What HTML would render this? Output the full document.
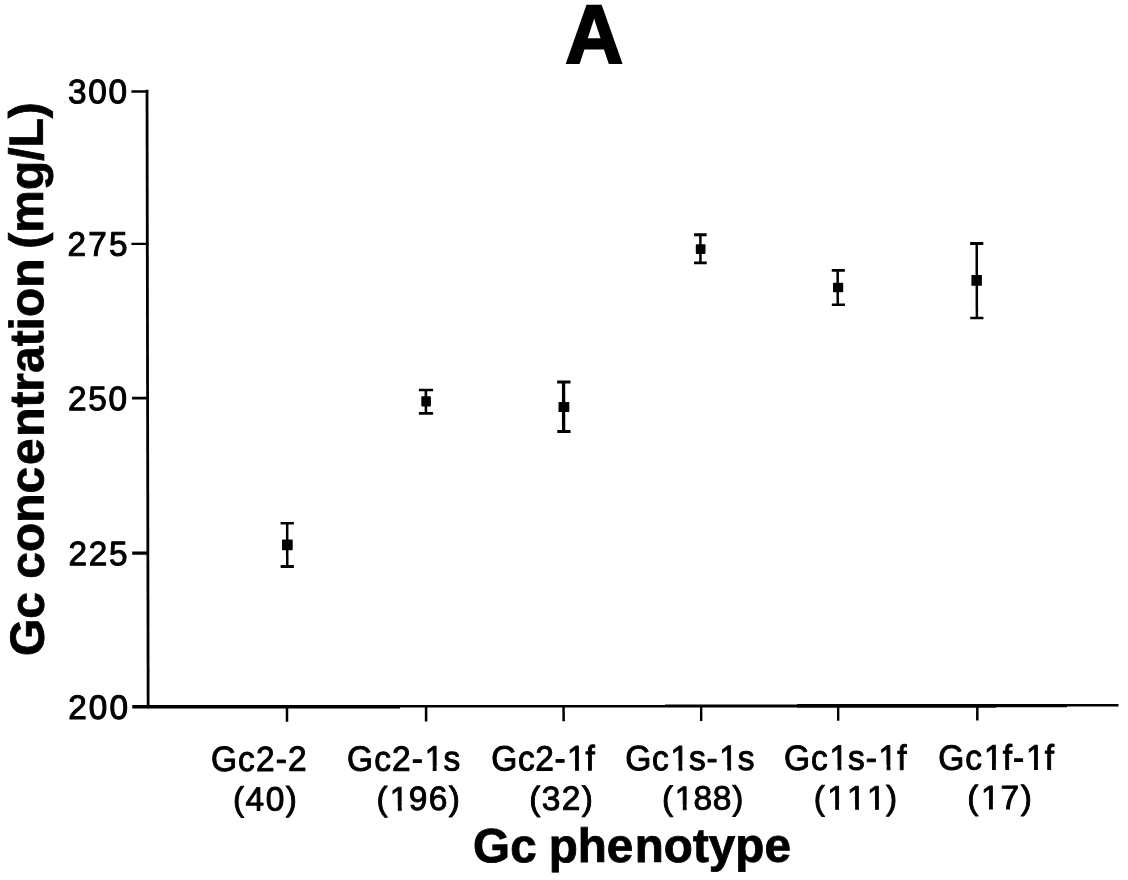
<!DOCTYPE html>
<html lang="en">
<head>
<meta charset="utf-8">
<title>Gc concentration by Gc phenotype</title>
<style>
  html, body { margin: 0; padding: 0; background: #ffffff; }
  body { width: 1128px; height: 880px; overflow: hidden; }
  svg { display: block; }
  text { font-family: "Liberation Sans", sans-serif; font-kerning: none; fill: #000; white-space: pre; }
  .b { font-weight: bold; }
  .r { font-weight: normal; }
</style>
</head>
<body>
<svg width="1128" height="880" viewBox="0 0 1128 880">
  <rect x="0" y="0" width="1128" height="880" fill="#ffffff"/>
  <g transform="rotate(-0.105 148 707)">
  <!-- panel title -->
    <text id="ttl" class="b" transform="translate(566.357 63.776) scale(0.99 1.023)" font-size="81" stroke="#000" stroke-width="2.2" stroke-linejoin="miter">A</text>
  <!-- axes and ticks -->
  <g stroke="#000" fill="none">
    <line x1="148.15" y1="89.8" x2="148.15" y2="708.2" stroke-width="2.8"/>
    <line x1="132.53" y1="91.39" x2="149.33" y2="91.39" stroke-width="2.5"/>
    <line x1="132.25" y1="243.79" x2="149.25" y2="243.79" stroke-width="2.2"/>
    <line x1="132.57" y1="398.19" x2="149.17" y2="398.19" stroke-width="2.8"/>
    <line x1="132.48" y1="553.19" x2="149.08" y2="553.19" stroke-width="3.3"/>
    <line x1="286.99" y1="706.25" x2="286.99" y2="722.05" stroke-width="2.5"/>
    <line x1="426.09" y1="706.51" x2="426.09" y2="722.01" stroke-width="2.6"/>
    <line x1="563.59" y1="706.56" x2="563.59" y2="721.96" stroke-width="2.5"/>
    <line x1="701.19" y1="706.61" x2="701.19" y2="722.01" stroke-width="2.4"/>
    <line x1="838.19" y1="706.56" x2="838.19" y2="722.06" stroke-width="2.4"/>
    <line x1="977.29" y1="706.52" x2="977.29" y2="721.92" stroke-width="2.5"/>
  </g>
  <!-- y tick labels -->
    <text id="y300" class="r" transform="translate(68.996 103.1) scale(1 1.02)" font-size="33.4" x="0 20.25 40.5" stroke="#000" stroke-width="1" stroke-linejoin="round">300</text>
    <text id="y275" class="r" transform="translate(68.298 255.6) scale(1 1.02)" font-size="33.4" x="0 20.76 41.52" stroke="#000" stroke-width="1" stroke-linejoin="round">275</text>
    <text id="y250" class="r" transform="translate(68.522 410.1) scale(1 1.02)" font-size="33.4" x="0 20.27 40.55" stroke="#000" stroke-width="1" stroke-linejoin="round">250</text>
    <text id="y225" class="r" transform="translate(68.71 565.1) scale(1 1.02)" font-size="33.4" x="0 20.22 40.44" stroke="#000" stroke-width="1" stroke-linejoin="round">225</text>
    <text id="y200" class="r" transform="translate(68.275 718.9) scale(1 1.02)" font-size="33.4" x="0 20.54 41.09" stroke="#000" stroke-width="1" stroke-linejoin="round">200</text>
  <!-- data points: mean (square) with error bars -->
  <g stroke="#000" fill="#000">
    <line x1="287.5" y1="523.46" x2="287.5" y2="566.66" stroke-width="2.5"/>
    <line x1="280.9" y1="523.46" x2="294.2" y2="523.46" stroke-width="2.6"/>
    <line x1="280.9" y1="566.66" x2="294.2" y2="566.66" stroke-width="3"/>
    <rect x="282.3" y="539.66" width="10.7" height="10.9" rx="0.8" stroke="none"/>
    <line x1="426.46" y1="390.51" x2="426.46" y2="413.81" stroke-width="2.6"/>
    <line x1="419.46" y1="390.51" x2="433.66" y2="390.51" stroke-width="2.6"/>
    <line x1="419.46" y1="413.81" x2="433.66" y2="413.81" stroke-width="2.7"/>
    <rect x="421.86" y="396.81" width="9.6" height="10.2" rx="0.8" stroke="none"/>
    <line x1="564.15" y1="382.76" x2="564.15" y2="432.26" stroke-width="3.3"/>
    <line x1="557.75" y1="382.76" x2="571.05" y2="382.76" stroke-width="3"/>
    <line x1="557.75" y1="432.26" x2="571.05" y2="432.26" stroke-width="2.8"/>
    <rect x="559.05" y="402.86" width="10.8" height="9.9" rx="0.5" stroke="none"/>
    <line x1="701.24" y1="235.81" x2="701.24" y2="263.91" stroke-width="2.5"/>
    <line x1="694.84" y1="235.81" x2="707.54" y2="235.81" stroke-width="2.9"/>
    <line x1="694.84" y1="263.91" x2="707.54" y2="263.91" stroke-width="2.6"/>
    <rect x="696.64" y="245.21" width="9.7" height="9.7" rx="0.8" stroke="none"/>
    <line x1="838.47" y1="271.56" x2="838.47" y2="305.96" stroke-width="2.5"/>
    <line x1="832.57" y1="271.56" x2="845.67" y2="271.56" stroke-width="2.7"/>
    <line x1="832.57" y1="305.96" x2="845.67" y2="305.96" stroke-width="2.6"/>
    <rect x="833.77" y="284.07" width="10.2" height="9.4" rx="0.8" stroke="none"/>
    <line x1="977.58" y1="245.02" x2="977.58" y2="319.52" stroke-width="2.5"/>
    <line x1="970.98" y1="245.02" x2="984.18" y2="245.02" stroke-width="3.2"/>
    <line x1="970.98" y1="319.52" x2="984.18" y2="319.52" stroke-width="2.6"/>
    <rect x="972.18" y="276.62" width="10.5" height="10.6" rx="0.5" stroke="none"/>
  </g>
  <!-- x tick labels -->
    <text id="l1a" class="r" transform="translate(210.761 771.1) scale(1 1.045)" font-size="33.6" x="0 27.24 45.14 64.93 77.22" stroke="#000" stroke-width="0.9" stroke-linejoin="round">Gc2-2</text>
    <text id="l1b" class="r" transform="translate(232.825 810.6)" font-size="33.6" x="0 12.59 32.67 52.76" stroke="#000" stroke-width="0.9" stroke-linejoin="round">(40)</text>
    <text id="l2a" class="r" transform="translate(346.945 771.1) scale(1 1.045)" font-size="33.6" x="0 27.12 44.91 64.58 77.66 96.43" stroke="#000" stroke-width="0.9" stroke-linejoin="round">Gc2-1s</text>
    <rect x="425.213" y="766.427" width="7.39" height="6.723" fill="#ffffff"/>
    <rect x="436.472" y="766.427" width="6.627" height="6.723" fill="#ffffff"/>
    <text id="l2b" class="r" transform="translate(376.38 810.6)" font-size="33.6" x="0 13.3 32.3 52.2 72.1" stroke="#000" stroke-width="0.9" stroke-linejoin="round">(196)</text>
    <rect x="390.29" y="806.04" width="7.39" height="6.61" fill="#ffffff"/>
    <rect x="401.55" y="806.04" width="6.627" height="6.61" fill="#ffffff"/>
    <text id="l3a" class="r" transform="translate(491.104 771.1) scale(1 1.045)" font-size="33.6" x="0 26.67 44.01 63.24 75.86 94.19" stroke="#000" stroke-width="0.9" stroke-linejoin="round">Gc2-1f</text>
    <rect x="567.576" y="766.427" width="7.39" height="6.723" fill="#ffffff"/>
    <rect x="578.835" y="766.427" width="6.627" height="6.723" fill="#ffffff"/>
    <text id="l3b" class="r" transform="translate(529.051 810.6)" font-size="33.6" x="0 12.49 32.48 52.47" stroke="#000" stroke-width="0.9" stroke-linejoin="round">(32)</text>
    <text id="l4a" class="r" transform="translate(625.165 771.1) scale(1 1.045)" font-size="33.6" x="0 26.83 45.23 63.71 81.21 93.99 112.47" stroke="#000" stroke-width="0.9" stroke-linejoin="round">Gc1s-1s</text>
    <rect x="671.001" y="766.427" width="7.39" height="6.723" fill="#ffffff"/>
    <rect x="682.26" y="766.427" width="6.627" height="6.723" fill="#ffffff"/>
    <rect x="719.764" y="766.427" width="7.39" height="6.723" fill="#ffffff"/>
    <rect x="731.024" y="766.427" width="6.627" height="6.723" fill="#ffffff"/>
    <text id="l4b" class="r" transform="translate(661.749 810.6)" font-size="33.6" x="0 12.87 31.44 50.91 70.38" stroke="#000" stroke-width="0.9" stroke-linejoin="round">(188)</text>
    <rect x="675.23" y="806.04" width="7.39" height="6.61" fill="#ffffff"/>
    <rect x="686.489" y="806.04" width="6.627" height="6.61" fill="#ffffff"/>
    <text id="l5a" class="r" transform="translate(783.99 771.1) scale(1 1.045)" font-size="33.6" x="0 26.93 45.43 64.01 81.61 94.5 113.08" stroke="#000" stroke-width="0.9" stroke-linejoin="round">Gc1s-1f</text>
    <rect x="830.03" y="766.427" width="7.39" height="6.723" fill="#ffffff"/>
    <rect x="841.289" y="766.427" width="6.627" height="6.723" fill="#ffffff"/>
    <rect x="879.099" y="766.427" width="7.39" height="6.723" fill="#ffffff"/>
    <rect x="890.358" y="766.427" width="6.627" height="6.723" fill="#ffffff"/>
    <text id="l5b" class="r" transform="translate(813.604 810.6)" font-size="33.6" x="0 13.36 33.31 53.27 72.32" stroke="#000" stroke-width="0.9" stroke-linejoin="round">(111)</text>
    <rect x="827.57" y="806.04" width="7.39" height="6.61" fill="#ffffff"/>
    <rect x="838.83" y="806.04" width="6.627" height="6.61" fill="#ffffff"/>
    <rect x="847.525" y="806.04" width="7.39" height="6.61" fill="#ffffff"/>
    <rect x="858.784" y="806.04" width="6.627" height="6.61" fill="#ffffff"/>
    <rect x="867.48" y="806.04" width="7.39" height="6.61" fill="#ffffff"/>
    <rect x="878.739" y="806.04" width="6.627" height="6.61" fill="#ffffff"/>
    <text id="l6a" class="r" transform="translate(938.104 771.1) scale(1 1.045)" font-size="33.6" x="0 27.09 45.74 64.48 74.77 87.82 106.56" stroke="#000" stroke-width="0.9" stroke-linejoin="round">Gc1f-1f</text>
    <rect x="984.457" y="766.427" width="7.39" height="6.723" fill="#ffffff"/>
    <rect x="995.716" y="766.427" width="6.627" height="6.723" fill="#ffffff"/>
    <rect x="1026.53" y="766.427" width="7.39" height="6.723" fill="#ffffff"/>
    <rect x="1037.789" y="766.427" width="6.627" height="6.723" fill="#ffffff"/>
    <text id="l6b" class="r" transform="translate(967.069 810.6)" font-size="33.6" x="0 13.74 33.18 53.52" stroke="#000" stroke-width="0.9" stroke-linejoin="round">(17)</text>
    <rect x="981.421" y="806.04" width="7.39" height="6.61" fill="#ffffff"/>
    <rect x="992.681" y="806.04" width="6.627" height="6.61" fill="#ffffff"/>
  <!-- axis titles -->
    <text id="xt" class="b" transform="translate(472.8 862.9) scale(0.993 1)" font-size="48" dx="0 0 -1.3 0 0 0 1.3" stroke="#000" stroke-width="0.8" stroke-linejoin="miter">Gc phenotype</text>
    <text id="yt" class="b" transform="translate(43.9 655.741) rotate(-90) scale(0.998 1)" font-size="48" dx="0 0 0 0 0 0 0 2 1.4 0 0 0 0 0 0 0 -3.4" stroke="#000" stroke-width="0.8" stroke-linejoin="miter">Gc concentration (mg/L)</text>
  </g>
  <!-- x axis (slightly uneven, as in the scanned figure) -->
  <path id="xaxis" d="M132.3 705.1 L400 705.1 L665 705.1 L665 704.6 L797 704.6 L797 704.1 L996 704.1 L1067 704.1 L1067 704 L1118.5 704 L1118.5 706.4 L1067 706.4 L1067 707.2 L996 707.2 L996 707.7 L797 707.7 L797 707.5 L665 707.5 L400 707.5 L400 708.6 L132.3 708.6 Z" fill="#000"/>
</svg>
</body>
</html>
